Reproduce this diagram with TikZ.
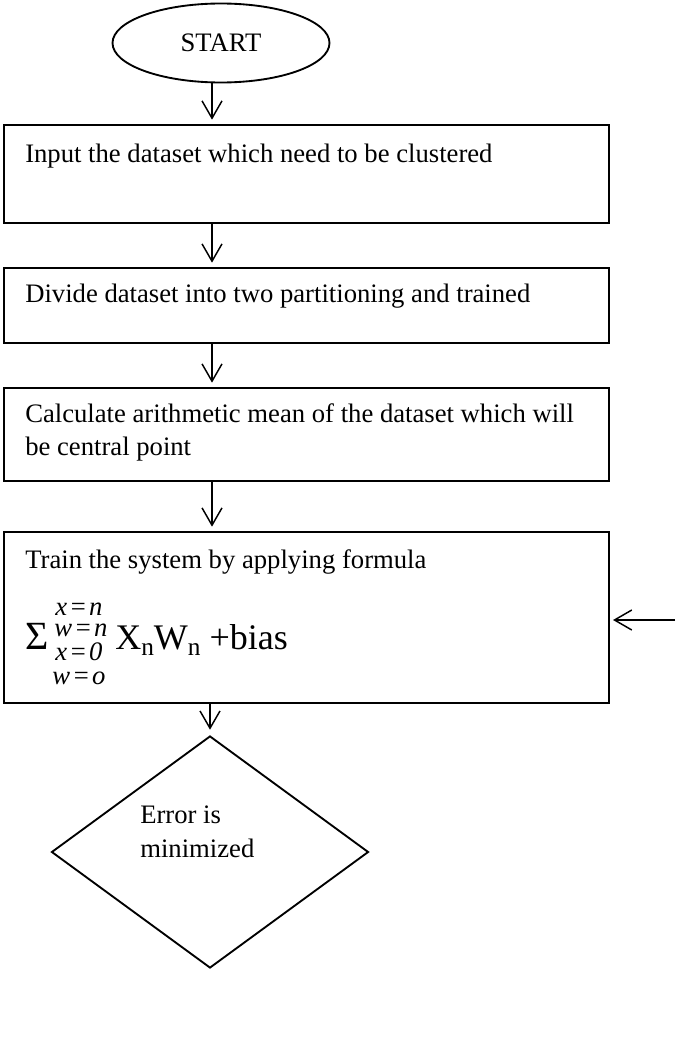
\documentclass[tikz,border=0pt]{standalone}
\usepackage{fontspec}
\setmainfont{Liberation Serif}
\usetikzlibrary{shapes.geometric,arrows.meta}
\newcommand{\eqk}{\kern1.5pt=\kern1.5pt}
\begin{document}
\begin{tikzpicture}[x=0.75pt,y=-0.75pt,
  boxnode/.style={draw,line width=1.6pt,rectangle,minimum width=453.75pt,inner sep=0pt,outer sep=0pt},
  txt/.style={anchor=base west,inner sep=0pt,font=\fontsize{20}{24}\selectfont},
  scr/.style={anchor=base west,inner sep=0pt,text height=10pt,text depth=0pt,font=\fontsize{20}{20}\selectfont\itshape},
  arr/.style={line width=1.1pt,-{Straight Barb[length=13pt,width=15pt,line width=1.1pt]},shorten >=4pt}
]
\useasboundingbox (0,0) rectangle (675,1063);
\coordinate (colx) at (212,0);
% start
\node[draw,ellipse,line width=1.4pt,minimum width=162.75pt,minimum height=59.25pt,inner sep=0pt,font=\fontsize{20}{24}\selectfont] (start) at (221,43) {START};
% boxes
\node[boxnode,minimum height=73.5pt] (b1) at (306.5,174) {};
\node[boxnode,minimum height=56.25pt] (b2) at (306.5,305.5) {};
\node[boxnode,minimum height=69.75pt] (b3) at (306.5,434.5) {};
\node[boxnode,minimum height=128.25pt] (b4) at (306.5,617.5) {};
\node[draw,diamond,line width=1.4pt,minimum width=237.75pt,minimum height=174pt,inner sep=0pt] (dec) at (210,852) {};
% texts
\node[txt] (t1) at (25,162) {Input the dataset which need to be clustered};
\node[txt] (t2) at (25,302) {Divide dataset into two partitioning and trained};
\node[txt] (t3a) at (25,422) {Calculate arithmetic mean of the dataset which will};
\node[txt] (t3b) at (25,455) {be central point};
\node[txt] (t4) at (25,568) {Train the system by applying formula};
\node[txt] (d1) at (140,823) {Error is};
\node[txt] (d2) at (140,857) {minimized};
% formula
\node[anchor=base west,inner sep=0pt,font=\fontsize{30}{30}\selectfont] (sig) at (25,649) {Σ};
\node[scr] (s1) at (55,615) {x\eqk n};
\node[scr] (s2) at (54,636) {w\eqk n};
\node[scr] (s3) at (55,660) {x\eqk 0};
\node[scr] (s4) at (52,684) {w\eqk o};
\node[anchor=base west,inner sep=0pt,font=\fontsize{27}{27}\selectfont] (xw) at (115,649)
  {X\raisebox{-5pt}{\fontsize{19}{19}\selectfont n}W\raisebox{-5pt}{\fontsize{19}{19}\selectfont n} +bias};
% connectors
\coordinate (entry) at (675,620);
\draw[arr] (start.south -| colx) -- (b1.north -| colx);
\draw[arr] (b1.south -| colx) -- (b2.north -| colx);
\draw[arr] (b2.south -| colx) -- (b3.north -| colx);
\draw[arr] (b3.south -| colx) -- (b4.north -| colx);
\draw[arr] (b4.south -| dec.north) -- (dec.north);
\draw[arr,shorten >=3pt] (entry) -- (entry -| b4.east);
\end{tikzpicture}
\end{document}
